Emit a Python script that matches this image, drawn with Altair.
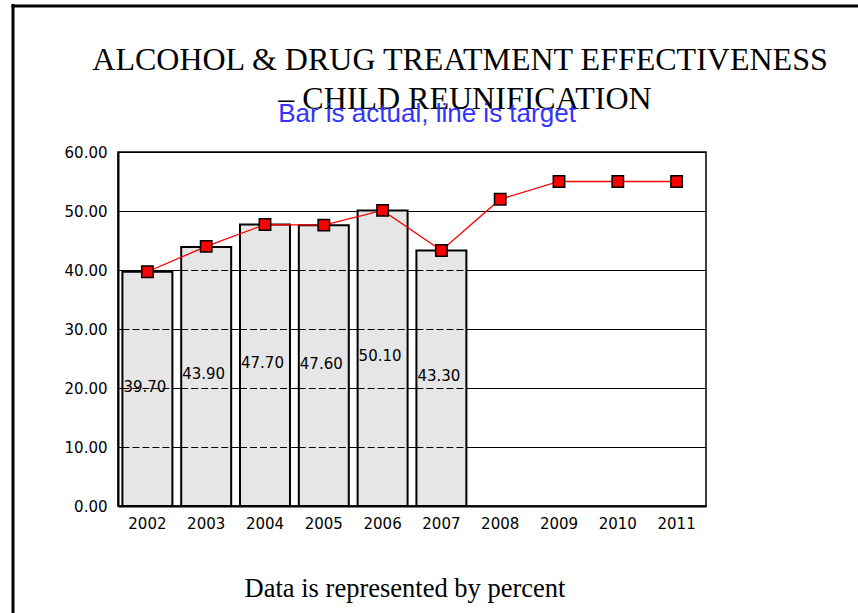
import altair as alt
import pandas as pd

# ---- data ----
years = ["2002", "2003", "2004", "2005", "2006", "2007", "2008", "2009", "2010", "2011"]
actual_years = ["2002", "2003", "2004", "2005", "2006", "2007"]
actual = [39.70, 43.90, 47.70, 47.60, 50.10, 43.30]
target = [39.7, 44.0, 47.7, 47.6, 50.1, 43.3, 52.0, 55.0, 55.0, 55.0]
y_ticks = [0, 10, 20, 30, 40, 50, 60]
grid_levels = [10, 20, 30, 40, 50]

title_line1 = "ALCOHOL & DRUG TREATMENT EFFECTIVENESS"
title_line2 = "– CHILD REUNIFICATION"
subtitle = "Bar is actual, line is target"
footer = "Data is represented by percent"

bar_df = pd.DataFrame({"year": actual_years, "actual": actual})
line_df = pd.DataFrame({"year": years, "target": target})
dash_df = pd.DataFrame(
    [{"year": y, "level": lvl} for y, v in zip(actual_years, actual) for lvl in grid_levels if lvl < v - 0.5]
)

# ---- shared scales / axes ----
x_scale = alt.Scale(domain=years, paddingInner=0.15, paddingOuter=0.075)
y_scale = alt.Scale(domain=[0, 60], nice=False, zero=True)

x_axis = alt.Axis(
    title=None, labelAngle=0, ticks=False, tickSize=0, grid=False,
    domainColor="black", domainWidth=2, labelFont="DejaVu Sans", labelFontSize=15,
    labelColor="black", labelPadding=10,
)
y_axis = alt.Axis(
    title=None, values=y_ticks, format=".2f", ticks=False, tickSize=0,
    grid=True, gridColor="black", gridOpacity=1, gridWidth=1,
    domainColor="black", domainWidth=2, labelFont="DejaVu Sans", labelFontSize=15,
    labelColor="black", labelPadding=11,
)

def X():
    return alt.X("year:N", scale=x_scale, axis=x_axis, sort=years)

bars = alt.Chart(bar_df).mark_bar(fill="#e6e6e6", stroke="black", strokeWidth=2).encode(
    x=X(), y=alt.Y("actual:Q", scale=y_scale, axis=y_axis)
)

dashes = alt.Chart(dash_df).mark_rule(
    color="black", strokeWidth=1, strokeDash=[7, 3], xOffset=-25, x2Offset=25, yOffset=0.5
).encode(
    x=X(), x2="year:N", y=alt.Y("level:Q", scale=y_scale, axis=y_axis)
)

labels = alt.Chart(bar_df).transform_calculate(half="datum.actual / 2").mark_text(
    align="left", baseline="middle", dx=-24, dy=-2, font="DejaVu Sans", fontSize=15, color="black"
).encode(
    x=X(), y=alt.Y("half:Q", scale=y_scale, axis=y_axis), text=alt.Text("actual:Q", format=".2f")
)

line = alt.Chart(line_df).mark_line(color="#ff0000", strokeWidth=1.3).encode(
    x=X(), y=alt.Y("target:Q", scale=y_scale, axis=y_axis)
)

points = alt.Chart(line_df).mark_square(
    size=130, color="#ff0000", stroke="black", strokeWidth=1.5, opacity=1
).encode(
    x=X(), y=alt.Y("target:Q", scale=y_scale, axis=y_axis)
)

one = pd.DataFrame({"t": [0]})

t1 = alt.Chart(one).mark_text(
    text=title_line1, font="Liberation Serif", fontSize=32, color="black", align="center", baseline="alphabetic"
).encode(x=alt.value(342), y=alt.value(-82))
t2 = alt.Chart(one).mark_text(
    text=title_line2, font="Liberation Serif", fontSize=32, color="black", align="center", baseline="alphabetic"
).encode(x=alt.value(347), y=alt.value(-43))
t3 = alt.Chart(one).mark_text(
    text=subtitle, font="Liberation Sans", fontSize=26, color="#3333ff", align="center", baseline="alphabetic"
).encode(x=alt.value(309), y=alt.value(-30))
t4 = alt.Chart(one).mark_text(
    text=footer, font="Liberation Serif", fontSize=26.5, color="black", align="center", baseline="alphabetic"
).encode(x=alt.value(287), y=alt.value(445))

border_left = alt.Chart(one).mark_rule(color="black", strokeWidth=3).encode(
    x=alt.value(-105), y=alt.value(-148), y2=alt.value(470)
)
border_top = alt.Chart(one).mark_rule(color="black", strokeWidth=3).encode(
    x=alt.value(-106.5), x2=alt.value(745), y=alt.value(-146)
)

chart = alt.layer(
    bars, dashes, labels, line, points, t1, t2, t3, t4, border_left, border_top
).properties(
    width=588, height=354,
    padding={"left": 118, "top": 152, "right": 152, "bottom": 107},
    autosize=alt.AutoSizeParams(type="none"),
    background="white",
).configure_view(stroke="black", strokeWidth=1.5)

chart.save("out.html", embed_options={"renderer": "svg", "actions": False})
